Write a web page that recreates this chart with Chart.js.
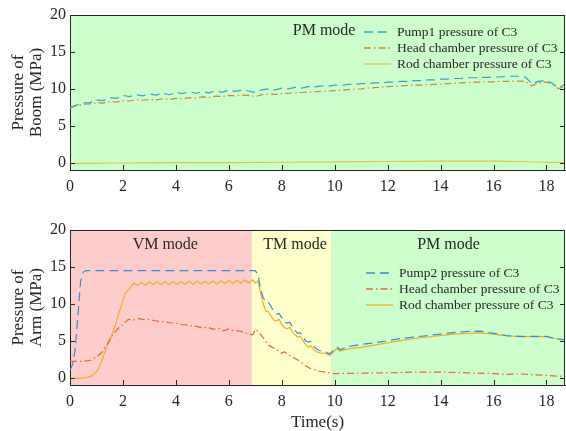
<!DOCTYPE html>
<html>
<head>
<meta charset="utf-8">
<script src="https://cdn.jsdelivr.net/npm/chart.js@4.4.0/dist/chart.umd.min.js"></script>
<style>
  html, body { margin: 0; padding: 0; background: #fff; }
  #wrap { position: relative; width: 566px; height: 431px; overflow: hidden; }
  canvas { position: absolute; left: 0; }
</style>
</head>
<body>
<div id="wrap">
  <canvas id="boomChart" width="566" height="200" style="top:0"></canvas>
  <canvas id="armChart" width="566" height="232" style="top:200px"></canvas>
</div>
<script>
// axes
const xTicks = [0, 2, 4, 6, 8, 10, 12, 14, 16, 18];
const yTicks = [0, 5, 10, 15, 20];

// boom (top chart)
const boomLabels = ['Pump1 pressure of C3', 'Head chamber pressure of C3', 'Rod chamber pressure of C3'];
const boomModes = ['PM mode'];
const boomModeStart = [0];
const boomModeEnd = [18.7];
const boomTime = [0,0.25,0.5,0.75, 1,1.25,1.5,1.75, 2,2.25,2.5,2.75, 3,3.25,3.5,3.75, 4,4.25,4.5,4.75,
  5,5.25,5.5,5.75, 6,6.25,6.5,6.75, 7,7.25,7.5,7.75, 8,8.25,8.5,8.75, 9,9.25,9.5,9.75,
  10,10.25,10.5,10.75, 11,11.25,11.5,11.75, 12,12.25,12.5,12.75, 13,13.25,13.5,13.75,
  14,14.25,14.5,14.75, 15,15.25,15.5,15.75, 16,16.25,16.5,16.75, 17,
  17.2,17.45,17.7,18,18.2,18.45,18.6,18.7];
const boomPump1 = [7.5,7.8,8.1,8.1, 8.5,8.4,8.8,8.7, 9.1,8.95,9.2,9.05, 9.3,9.15,9.4,9.2, 9.5,9.35,9.6,9.4,
  9.6,9.45,9.7,9.55, 9.8,9.65,9.8,9.7, 9.5,9.85,10.0,9.85, 10.1,10.0,10.2,10.1, 10.3,10.25,10.4,10.35,
  10.5,10.45,10.6,10.6, 10.7,10.7,10.8,10.8, 10.9,10.9,11.0,11.0, 11.1,11.1,11.2,11.2,
  11.3,11.3,11.4,11.4, 11.5,11.5,11.55,11.55, 11.6,11.6,11.7,11.7, 11.7,
  11.6,10.7,11.0,11.1,10.8,10.1,10.4,10.7];
const boomHead = [7.4,7.7,7.9,7.95, 8.1,8.05,8.25,8.2, 8.4,8.35,8.5,8.45, 8.55,8.5,8.65,8.55, 8.7,8.65,8.8,8.75,
  8.9,8.85,9.0,8.95, 9.1,9.05,9.15,9.1, 8.95,9.2,9.3,9.25, 9.35,9.4,9.45,9.5, 9.55,9.6,9.65,9.7,
  9.75,9.8,9.9,9.95, 10.0,10.1,10.15,10.2, 10.3,10.35,10.4,10.45, 10.5,10.5,10.55,10.6,
  10.65,10.7,10.75,10.8, 10.85,10.9,10.9,10.95, 10.95,11.0,11.0,11.05, 11.05,
  11.0,10.4,10.8,10.9,10.7,10.0,10.2,10.5];
const boomRodTime = [0, 2, 4, 6, 8, 10, 12, 14, 16, 17, 18, 18.7];
const boomRod = [-0.1, -0.05, 0, 0, 0.05, 0.1, 0.15, 0.2, 0.2, 0.15, 0.05, 0];

// arm (bottom chart)
const armLabels = ['Pump2 pressure of C3', 'Head chamber pressure of C3', 'Rod chamber pressure of C3'];
const armModes = ['VM mode', 'TM mode', 'PM mode'];
const armModeStart = [0, 6.87, 9.86];
const armModeEnd = [6.87, 9.86, 18.7];
const armPumpTime = [0,0.1,0.2,0.3,0.4,0.5,0.6,2,4,6,7,7.1,7.2,7.3,7.4,7.5,7.6,7.7,7.8,7.9,
  8.0,8.1,8.2,8.3,8.4,8.5,8.6,8.7,8.8,8.9,9.0,9.1,9.2,9.3,9.4,9.5,9.6,9.7,9.8,9.9,
  10.0,10.1,10.2,10.3,10.5,11,11.5,12,12.5,13,13.5,14,14.5,15,15.5,16,16.5,17,17.5,18,18.3,18.7];
const armPump = [1.0,1.8,4.0,8.5,13.0,14.3,14.5,14.5,14.5,14.5,14.5,14.0,12.0,10.8,10.3,10.2,9.6,9.0,8.6,8.7,
  8.1,7.6,7.4,7.5,6.9,6.4,6.0,6.1,5.5,5.0,4.8,4.9,4.3,3.9,3.7,3.6,3.6,3.4,3.2,3.5,
  3.9,4.1,3.8,3.9,4.2,4.5,4.7,5.0,5.3,5.5,5.7,5.9,6.1,6.25,6.3,6.0,5.7,5.6,5.6,5.6,5.3,5.1];
const armHeadTime = [0,0.5,0.8,1.0,1.2,1.4,1.6,1.8,2.0,2.2,2.4,2.6,2.8,3.0,3.2,3.4,3.6,3.8,4.0,4.2,
  4.4,4.6,4.8,5.0,5.2,5.4,5.6,5.8,6.0,6.2,6.4,6.6,6.8,6.9,7.0,7.1,7.3,7.5,7.6,7.8,
  8.0,8.1,8.3,8.5,8.7,8.9,9.1,9.4,9.8,10,11,12,13,14,15,16,16.5,17,17.5,18,18.7];
const armHead = [2.2,2.2,2.35,2.8,3.4,4.5,5.7,6.6,7.2,7.9,7.8,8.0,7.85,7.9,7.7,7.6,7.55,7.4,7.4,7.2,
  7.15,7.0,6.95,6.7,6.85,6.55,6.7,6.35,6.6,6.3,6.35,6.05,5.9,5.8,6.5,6.3,5.4,4.4,4.2,3.8,
  3.3,3.5,3.0,2.6,2.2,1.6,1.2,0.9,0.65,0.55,0.6,0.65,0.75,0.75,0.65,0.55,0.45,0.5,0.4,0.3,0.15];
const armRodTime = [0,0.3,0.6,0.8,1.0,1.1,1.2,1.3,1.4,1.5,1.6,1.7,1.8,1.9,2.0,2.1,2.2,2.3,2.4,
  2.55,2.7,2.85,3.0,3.15,3.3,3.45,3.6,3.75,3.9,4.05,4.2,4.35,4.5,4.65,4.8,4.95,5.1,5.25,5.4,
  5.55,5.7,5.85,6.0,6.15,6.3,6.45,6.6,6.75,6.9,
  7.0,7.1,7.2,7.3,7.4,7.5,7.6,7.7,7.8,7.9,8.0,8.1,8.2,8.3,8.4,8.5,8.6,8.7,8.8,8.9,
  9.0,9.1,9.2,9.3,9.4,9.5,9.6,9.7,9.8,9.9,10.0,10.1,10.2,10.3,
  10.5,11,11.5,12,12.5,13,13.5,14,14.5,15,15.5,16,16.5,17,17.5,18,18.3,18.7];
const armRod = [-0.1,-0.1,0.0,0.2,0.8,1.4,2.3,3.3,4.3,5.0,6.0,7.0,8.2,9.3,10.5,11.5,11.9,12.3,12.8,
  12.5,12.9,12.55,12.95,12.6,12.95,12.6,13.0,12.6,13.0,12.65,13.0,12.65,13.05,12.65,13.05,12.7,13.05,12.7,13.1,
  12.7,13.1,12.75,13.15,12.75,13.2,12.8,13.25,12.8,13.25,
  12.8,13.1,11.5,10.0,9.0,8.9,8.3,7.8,7.7,7.9,7.2,6.8,6.6,6.8,6.2,5.8,5.5,5.6,5.0,4.5,
  4.1,4.3,3.8,3.5,3.4,3.3,3.3,3.2,3.0,3.3,3.7,3.9,3.6,3.7,
  3.9,4.1,4.4,4.7,5.0,5.3,5.5,5.7,5.9,6.0,6.05,5.9,5.65,5.55,5.55,5.55,5.3,5.1];

const textColor = '#262626';
const axisColor = '#262626';
const serif = "'Liberation Serif', 'Times New Roman', serif";
const modeColors = { 'VM mode': '#ffcccc', 'TM mode': '#ffffcc', 'PM mode': '#ccffcc' };

function pts(t, v) {
  return t.map((x, i) => ({ x: x, y: v[i] }));
}

// fondo de modos, caja, ticks hacia dentro, rótulos y leyenda
const decorPlugin = {
  id: 'decor',
  beforeDraw(chart, args, opts) {
    const { ctx, chartArea: a, scales: { x } } = chart;
    ctx.save();
    opts.modes.forEach((m, i) => {
      const x0 = Math.max(a.left, x.getPixelForValue(opts.starts[i]));
      const x1 = Math.min(a.right, x.getPixelForValue(opts.ends[i]));
      ctx.fillStyle = modeColors[m];
      ctx.fillRect(x0, a.top, x1 - x0, a.bottom - a.top);
    });
    ctx.restore();
  },
  afterDraw(chart, args, opts) {
    const { ctx, chartArea: a, scales: { x, y } } = chart;
    ctx.save();
    ctx.strokeStyle = axisColor;
    ctx.lineWidth = 1;
    ctx.beginPath();
    ctx.moveTo(a.left, a.top + 0.5); ctx.lineTo(a.right, a.top + 0.5);
    ctx.moveTo(a.right - 0.5, a.top); ctx.lineTo(a.right - 0.5, a.bottom);
    xTicks.forEach(v => {
      const px = Math.round(x.getPixelForValue(v)) + 0.5;
      ctx.moveTo(px, a.bottom); ctx.lineTo(px, a.bottom - 5);
    });
    yTicks.forEach(v => {
      const py = Math.round(y.getPixelForValue(v)) + 0.5;
      ctx.moveTo(a.left, py); ctx.lineTo(a.left + 5, py);
      ctx.moveTo(a.right, py); ctx.lineTo(a.right - 5, py);
    });
    ctx.stroke();

    ctx.fillStyle = textColor;
    ctx.font = '16px ' + serif;
    ctx.textBaseline = 'middle';
    ctx.textAlign = 'center';
    opts.modes.forEach((m, i) => {
      ctx.fillText(m, x.getPixelForValue(opts.labelX[i]), opts.labelY);
    });

    ctx.font = '13.5px ' + serif;
    ctx.textAlign = 'left';
    chart.data.datasets.forEach((ds, i) => {
      const ly = opts.legendY + i * 16;
      ctx.strokeStyle = ds.borderColor;
      ctx.lineWidth = 1.3;
      ctx.setLineDash(ds.borderDash || []);
      ctx.beginPath();
      ctx.moveTo(opts.legendX, ly);
      ctx.lineTo(opts.legendX + 27, ly);
      ctx.stroke();
      ctx.setLineDash([]);
      ctx.fillText(ds.label, opts.legendX + 33, ly);
    });
    ctx.restore();
  }
};

function makeOptions(yTitle, xTitle, padTop, xHeight, decor) {
  return {
    responsive: false,
    animation: false,
    layout: { padding: { top: padTop, right: 1, left: 0, bottom: 0 } },
    elements: { point: { radius: 0 }, line: { tension: 0, borderWidth: 1.2 } },
    plugins: { legend: { display: false }, tooltip: { enabled: false }, decor: decor },
    scales: {
      x: {
        type: 'linear', min: 0, max: 18.7,
        grid: { display: false, drawTicks: false },
        border: { color: axisColor, width: 1 },
        afterBuildTicks: s => { s.ticks = xTicks.map(v => ({ value: v })); },
        afterFit: s => { s.height = xHeight; },
        ticks: { font: { family: serif, size: 16 }, color: textColor, padding: 7, maxRotation: 0 },
        title: { display: !!xTitle, text: xTitle, color: textColor,
                 font: { family: serif, size: 17, lineHeight: 1.15 }, padding: { top: 0, bottom: 0 } }
      },
      y: {
        min: -1, max: 20,
        grid: { display: false, drawTicks: false },
        border: { color: axisColor, width: 1 },
        afterBuildTicks: s => { s.ticks = yTicks.map(v => ({ value: v })); },
        afterFit: s => { s.width = 70; },
        ticks: { font: { family: serif, size: 16 }, color: textColor, padding: 4 },
        title: { display: true, text: yTitle, color: textColor,
                 font: { family: serif, size: 17, lineHeight: 1.09 }, padding: { top: 9, bottom: 0 } }
      }
    }
  };
}

new Chart(document.getElementById('boomChart'), {
  type: 'line',
  data: {
    datasets: [
      { label: boomLabels[0], data: pts(boomTime, boomPump1), borderColor: '#34a2cc', borderDash: [9, 5] },
      { label: boomLabels[1], data: pts(boomTime, boomHead), borderColor: '#d0843c', borderDash: [7, 3, 1.5, 3] },
      { label: boomLabels[2], data: pts(boomRodTime, boomRod), borderColor: '#e2c23e' }
    ]
  },
  options: makeOptions(['Pressure of', 'Boom (MPa)'], '', 15, 30, {
    modes: boomModes, starts: boomModeStart, ends: boomModeEnd,
    labelX: [9.6], labelY: 31, legendX: 364, legendY: 32
  }),
  plugins: [decorPlugin]
});

new Chart(document.getElementById('armChart'), {
  type: 'line',
  data: {
    datasets: [
      { label: armLabels[0], data: pts(armPumpTime, armPump), borderColor: '#2f90d6', borderDash: [9, 5] },
      { label: armLabels[1], data: pts(armHeadTime, armHead), borderColor: '#e8662e', borderDash: [7, 3, 1.5, 3] },
      { label: armLabels[2], data: pts(armRodTime, armRod), borderColor: '#f2ad22' }
    ]
  },
  options: makeOptions(['Pressure of', 'Arm (MPa)'], 'Time(s)', 30, 47, {
    modes: armModes, starts: armModeStart, ends: armModeEnd,
    labelX: [3.6, 8.5, 14.3], labelY: 45, legendX: 366, legendY: 73
  }),
  plugins: [decorPlugin]
});
</script>
</body>
</html>
